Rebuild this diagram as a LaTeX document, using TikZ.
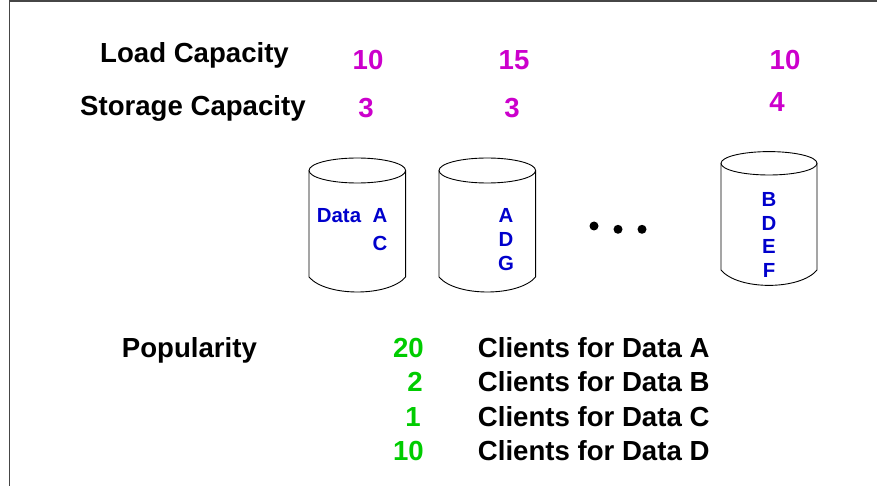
\documentclass[tikz,border=0pt]{standalone}
\usepackage{fontspec}
\setmainfont{Liberation Sans}
\definecolor{mag}{RGB}{204,0,204}
\definecolor{dblue}{RGB}{0,0,204}
\definecolor{grn}{RGB}{0,204,0}
\definecolor{frame}{RGB}{70,70,70}
\begin{document}
\begin{tikzpicture}[x=1pt,y=-1pt,
  big/.style={font=\fontsize{27.6}{30}\selectfont\bfseries, inner sep=0pt, anchor=base},
  lbl/.style={big, anchor=base west},
  magn/.style={big, text=mag},
  grnn/.style={big, text=grn, anchor=base east},
  dat/.style={font=\fontsize{20.4}{22}\selectfont\bfseries, text=dblue, inner sep=0pt, anchor=base},
  cyl/.style={draw=black, line width=0.9pt},
  frameline/.style={draw=frame, line width=1.4pt}]
\useasboundingbox (0,0) rectangle (877,486);
% frame
\draw[frameline] (9.5,486) -- (9.5,1) -- (877,1);
% top labels
\node[lbl] (load) at (100,63) {Load Capacity};
\node[lbl] (stor) at (80,116) {Storage Capacity};
\node[magn] (l1) at (368,70) {10};
\node[magn] (l2) at (514,70) {15};
\node[magn] (l3) at (785,70) {10};
\node[magn] (s1) at (366,118) {3};
\node[magn] (s2) at (512,118) {3};
\node[magn] (s3) at (777,112) {4};
% cylinders
\draw[cyl] (357.3,170.5) ellipse [x radius=48.3, y radius=12.5];
\draw[cyl] (309,170.5) -- (309,277) .. controls (326,297) and (388.6,297) .. (405.6,277) -- (405.6,170.5);
\draw[cyl] (487.3,170.5) ellipse [x radius=48.3, y radius=12.5];
\draw[cyl] (439,170.5) -- (439,277) .. controls (456,297) and (518.6,297) .. (535.6,277) -- (535.6,170.5);
\draw[cyl] (769,163.3) ellipse [x radius=48, y radius=11.7];
\draw[cyl] (721,163.3) -- (721,270) .. controls (738,290.5) and (800,290.5) .. (817,270) -- (817,163.3);
% cylinder contents
\node[dat, anchor=base west] (data) at (316.7,222.7) {Data};
\node[dat] (c1a) at (380,222.7) {A};
\node[dat] (c1c) at (380,251) {C};
\node[dat] (c2a) at (506,222.7) {A};
\node[dat] (c2d) at (506,246) {D};
\node[dat] (c2g) at (506,270) {G};
\node[dat] (c3b) at (769,206.7) {B};
\node[dat] (c3d) at (769,230) {D};
\node[dat] (c3e) at (769,253.3) {E};
\node[dat] (c3f) at (769,277.3) {F};
% dots
\fill (594,226) circle [radius=4.5];
\fill (618,229.3) circle [radius=4.5];
\fill (642,229.3) circle [radius=4.5];
% popularity
\node[lbl] (pop) at (121.7,357) {Popularity};
\node[grnn] (p1) at (424,357) {20};
\node[grnn] (p2) at (423,391.7) {2};
\node[grnn] (p3) at (421,426.7) {1};
\node[grnn] (p4) at (424,460.7) {10};
\node[lbl] (ca) at (477.7,357) {Clients for Data A};
\node[lbl] (cb) at (477.7,391.7) {Clients for Data B};
\node[lbl] (cc) at (477.7,426.7) {Clients for Data C};
\node[lbl] (cd) at (477.7,460.7) {Clients for Data D};
\end{tikzpicture}
\end{document}
